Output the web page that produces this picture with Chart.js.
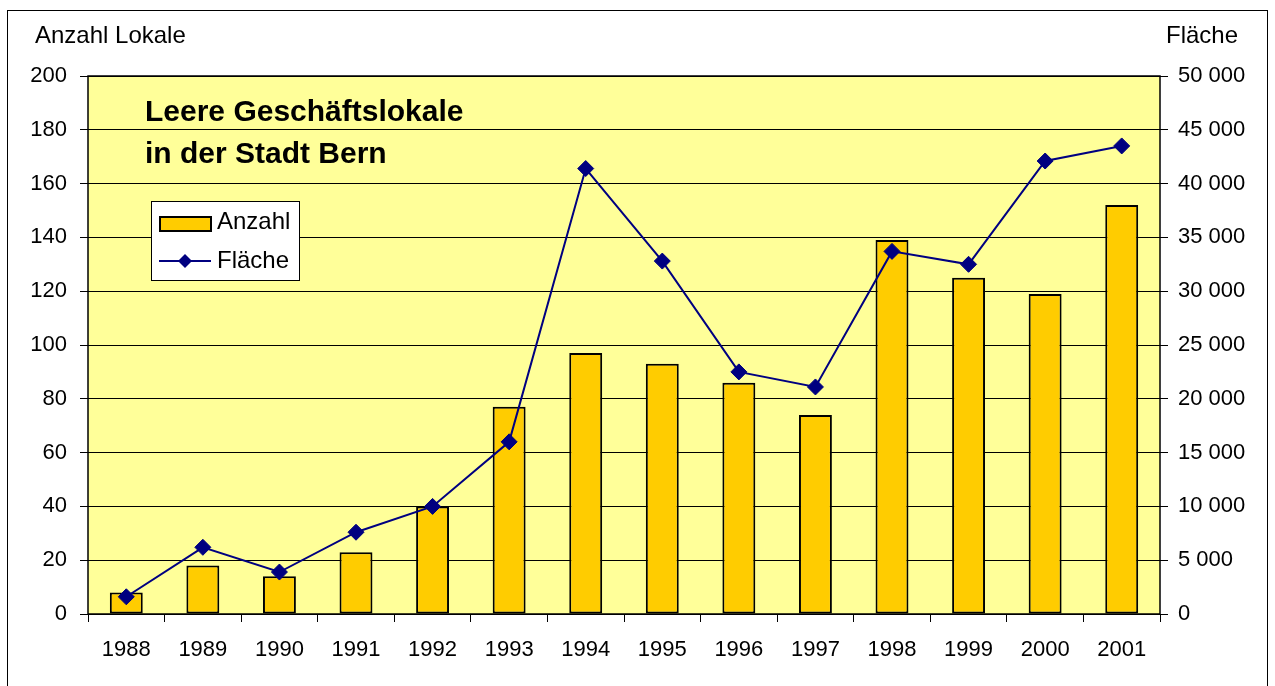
<!DOCTYPE html>
<html>
<head>
	<meta charset="utf-8">
	<title>Leere Geschäftslokale in der Stadt Bern</title>
	<script src="https://cdn.jsdelivr.net/npm/chart.js@4/dist/chart.umd.min.js"></script>
	<style>
		html, body { margin: 0; padding: 0; background: #fff; }
		#wrap { position: relative; width: 1275px; height: 686px; }
	</style>
</head>
<body>
	<div id="wrap">
		<canvas id="chart1" width="1275" height="686"></canvas>
	</div>
	<script type="text/javascript">
		var years = ['1988', '1989', '1990', '1991', '1992', '1993', '1994', '1995', '1996', '1997', '1998', '1999', '2000', '2001'];
		var anzahl = [8, 18, 14, 23, 40, 77, 97, 93, 86, 74, 139, 125, 119, 152];
		var flaeche = [1600, 6200, 3900, 7600, 10000, 16000, 41400, 32800, 22500, 21100, 33700, 32500, 42100, 43500];

		var FONT = '"Liberation Sans", Arial, sans-serif';
		var PLOT_LEFT = 88, PLOT_RIGHT = 1160, PLOT_TOP = 76, PLOT_BOTTOM = 614;

		function spaced(v) {
			return String(v).replace(/\B(?=(\d{3})+(?!\d))/g, ' ');
		}

		// background, borders, title, axis captions and legend
		var decor = {
			id: 'decor',
			beforeDraw: function(chart) {
				var c = chart.ctx, a = chart.chartArea;
				c.save();
				c.fillStyle = '#fff';
				c.fillRect(0, 0, chart.width, chart.height);
				c.strokeStyle = '#000';
				c.lineWidth = 1;
				c.strokeRect(7.5, 10.5, 1260, 690);
				c.fillStyle = '#FFFF99';
				c.fillRect(a.left, a.top, a.right - a.left, a.bottom - a.top);
				c.restore();
			},
			afterDraw: function(chart) {
				var c = chart.ctx, a = chart.chartArea;
				c.save();
				c.strokeStyle = '#000';
				c.lineWidth = 1.5;
				c.strokeRect(a.left, a.top, a.right - a.left, a.bottom - a.top);

				c.fillStyle = '#000';
				c.textBaseline = 'middle';
				c.font = '24px ' + FONT;
				c.textAlign = 'left';
				c.fillText('Anzahl Lokale', 35, 36);
				c.fillText('Fläche', 1166, 36);

				c.font = 'bold 30px ' + FONT;
				c.fillText('Leere Geschäftslokale', 145, 113);
				c.fillText('in der Stadt Bern', 145, 155);

				// legend
				c.fillStyle = '#fff';
				c.fillRect(151, 201, 149, 80);
				c.lineWidth = 1;
				c.strokeRect(151.5, 201.5, 148, 79);
				c.fillStyle = '#FFCC00';
				c.fillRect(160, 217, 51, 14);
				c.strokeStyle = '#000';
				c.lineWidth = 2;
				c.strokeRect(160, 217, 51, 14);
				c.strokeStyle = '#000080';
				c.lineWidth = 2;
				c.beginPath();
				c.moveTo(159, 261);
				c.lineTo(211, 261);
				c.stroke();
				c.fillStyle = '#000080';
				c.beginPath();
				c.moveTo(185, 254);
				c.lineTo(192, 261);
				c.lineTo(185, 268);
				c.lineTo(178, 261);
				c.closePath();
				c.fill();
				c.fillStyle = '#000';
				c.font = '24px ' + FONT;
				c.fillText('Anzahl', 217, 222);
				c.fillText('Fläche', 217, 261);
				c.restore();
			}
		};

		var ctx1 = document.getElementById('chart1');
		var chart1 = new Chart(ctx1, {
			type: 'bar',
			data: {
				labels: years,
				datasets: [{
					type: 'line',
					label: 'Fläche',
					data: flaeche,
					yAxisID: 'y2',
					borderColor: '#000080',
					backgroundColor: '#000080',
					borderWidth: 2,
					pointStyle: 'rectRot',
					pointRadius: 8,
					pointBorderWidth: 1,
					tension: 0,
					order: 1
				}, {
					label: 'Anzahl',
					data: anzahl,
					yAxisID: 'y',
					backgroundColor: '#FFCC00',
					borderColor: '#000',
					borderWidth: 2,
					borderSkipped: false,
					categoryPercentage: 1,
					barPercentage: 0.43,
					order: 2
				}]
			},
			plugins: [decor],
			options: {
				responsive: false,
				animation: false,
				events: [],
				layout: { padding: { top: PLOT_TOP, left: 0, right: 0, bottom: 0 } },
				plugins: {
					legend: { display: false },
					tooltip: { enabled: false }
				},
				scales: {
					x: {
						offset: true,
						grid: { offset: true, drawOnChartArea: false, drawTicks: true, tickLength: 8, color: '#000' },
						border: { display: false },
						ticks: { color: '#000', font: { family: FONT, size: 22 }, padding: 15, maxRotation: 0 },
						afterFit: function(s) { s.height = 686 - PLOT_BOTTOM; }
					},
					y: {
						position: 'left',
						min: 0,
						max: 200,
						ticks: { stepSize: 20, color: '#000', font: { family: FONT, size: 22 }, padding: 13 },
						grid: { color: '#000', lineWidth: 1, tickLength: 8 },
						border: { display: false },
						afterFit: function(s) { s.width = PLOT_LEFT; }
					},
					y2: {
						position: 'right',
						min: 0,
						max: 50000,
						ticks: {
							stepSize: 5000,
							color: '#000',
							font: { family: FONT, size: 22 },
							padding: 10,
							callback: function(v) { return spaced(v); }
						},
						grid: { drawOnChartArea: false, color: '#000', tickLength: 8 },
						border: { display: false },
						afterFit: function(s) { s.width = 1275 - PLOT_RIGHT; }
					}
				}
			}
		});
	</script>
</body>
</html>
